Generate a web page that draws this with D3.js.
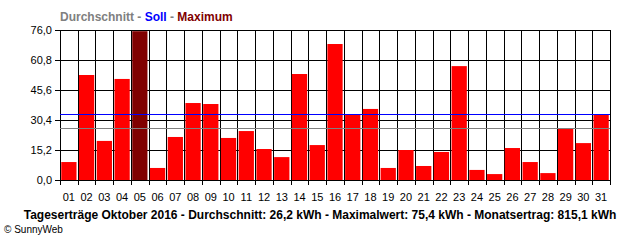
<!doctype html>
<html>
<head>
<meta charset="utf-8">
<script src="https://d3js.org/d3.v7.min.js"></script>
<style>
  body { margin: 0; background: #fff; }
  text { font-family: "Liberation Sans", Arial, sans-serif; }
</style>
</head>
<body>
<script>
// daily yields, October 2016 (kWh)
var days = ["01","02","03","04","05","06","07","08","09","10","11","12","13","14","15","16",
            "17","18","19","20","21","22","23","24","25","26","27","28","29","30","31"];
var yields = [9.1, 53.2, 19.8, 51.2, 75.4, 6.1, 21.8, 39.0, 38.5, 21.3, 24.8, 15.7, 11.6, 53.7, 17.7, 68.9,
              33.4, 36.0, 6.1, 15.2, 7.1, 14.2, 57.7, 5.1, 3.0, 16.2, 9.1, 3.5, 26.3, 18.7, 33.4];
var yTicks = [0, 15.2, 30.4, 45.6, 60.8, 76.0];
var average = 26.2;
var target = 33.3;
var maxValue = 75.4;
var monthTotal = 815.1;

var W = 640, H = 240;
// note: "top" is taken by window.top, so plot edges get their own names
var plotLeft = 60, plotRight = 610, plotTop = 30, plotBottom = 180;

var svg = d3.select("body").append("svg")
    .attr("width", W)
    .attr("height", H);

var x = d3.scaleBand().domain(days).range([plotLeft, plotRight]).paddingInner(0.14).paddingOuter(0.07);
var xSlot = d3.scaleLinear().domain([0, days.length]).range([plotLeft, plotRight]);
var y = d3.scaleLinear().domain([0, 76]).range([plotBottom, plotTop]);

var fmt = function(v) { return d3.format(".1f")(v).replace(".", ","); };

// horizontal grid
svg.append("g").selectAll("line")
    .data(yTicks)
    .enter().append("line")
    .attr("x1", plotLeft - 5).attr("x2", plotRight)
    .attr("y1", function(d) { return Math.round(y(d)) + 0.5; })
    .attr("y2", function(d) { return Math.round(y(d)) + 0.5; })
    .attr("stroke", "#000").attr("stroke-width", 1);

// vertical grid / ticks at slot boundaries
svg.append("g").selectAll("line")
    .data(d3.range(days.length + 1))
    .enter().append("line")
    .attr("x1", function(d) { return Math.round(xSlot(d)) + 0.5; })
    .attr("x2", function(d) { return Math.round(xSlot(d)) + 0.5; })
    .attr("y1", plotTop).attr("y2", plotBottom + 5)
    .attr("stroke", "#000").attr("stroke-width", 1);

// y labels
svg.append("g").selectAll("text")
    .data(yTicks)
    .enter().append("text")
    .attr("x", 52)
    .attr("y", function(d) { return y(d) + 4; })
    .attr("text-anchor", "end")
    .attr("font-size", "11px")
    .text(fmt);

// bars
svg.append("g").selectAll("rect")
    .data(yields)
    .enter().append("rect")
    .attr("x", function(d, i) { return x(days[i]); })
    .attr("width", x.bandwidth())
    .attr("y", function(d) { return y(d); })
    .attr("height", function(d) { return plotBottom - y(d); })
    .attr("fill", function(d) { return d === maxValue ? "#800000" : "#ff0000"; });

// average and target lines
svg.append("line")
    .attr("x1", plotLeft).attr("x2", plotRight)
    .attr("y1", Math.round(y(average)) + 0.5).attr("y2", Math.round(y(average)) + 0.5)
    .attr("stroke", "#808080").attr("stroke-width", 1);
svg.append("line")
    .attr("x1", plotLeft).attr("x2", plotRight)
    .attr("y1", Math.round(y(target)) + 0.5).attr("y2", Math.round(y(target)) + 0.5)
    .attr("stroke", "#0000ff").attr("stroke-width", 1);

// x labels
svg.append("g").selectAll("text")
    .data(days)
    .enter().append("text")
    .attr("x", function(d) { return x(d) + x.bandwidth() / 2; })
    .attr("y", 201)
    .attr("text-anchor", "middle")
    .attr("font-size", "11px")
    .text(function(d) { return d; });

// legend title
var legend = svg.append("text")
    .attr("x", 60).attr("y", 21)
    .attr("font-size", "12px")
    .attr("font-weight", "bold");
legend.append("tspan").attr("fill", "#808080").text("Durchschnitt - ");
legend.append("tspan").attr("fill", "#0000ff").text("Soll");
legend.append("tspan").attr("fill", "#808080").text(" - ");
legend.append("tspan").attr("fill", "#800000").text("Maximum");

// footer
svg.append("text")
    .attr("x", 320).attr("y", 219)
    .attr("text-anchor", "middle")
    .attr("font-size", "12px")
    .attr("font-weight", "bold")
    .text("Tageserträge Oktober 2016 - Durchschnitt: " + fmt(average) + " kWh - Maximalwert: " +
          fmt(maxValue) + " kWh - Monatsertrag: " + fmt(monthTotal) + " kWh");

svg.append("text")
    .attr("x", 4).attr("y", 233)
    .attr("font-size", "10px")
    .text("© SunnyWeb");
</script>
</body>
</html>
